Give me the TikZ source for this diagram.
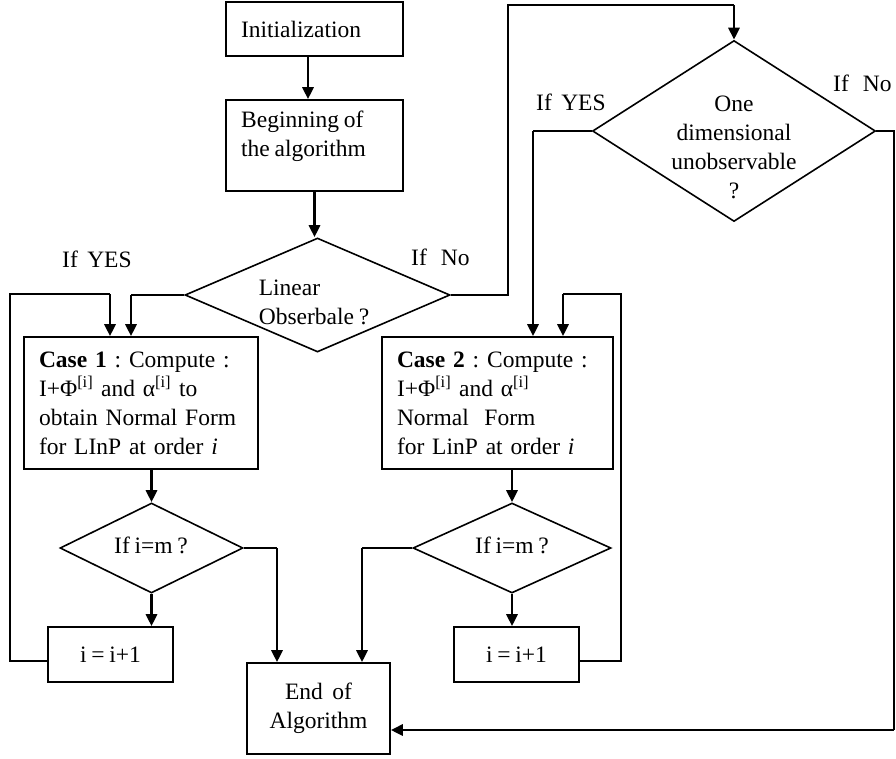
\documentclass[tikz,border=0pt]{standalone}
\usepackage{fontspec}
\setmainfont{Liberation Serif}[WordSpace=0.8]
\usetikzlibrary{arrows.meta,shapes.geometric}
\begin{document}
\begin{tikzpicture}[x=1pt,y=-1pt,
 every node/.style={font=\fontsize{23.5}{29}\selectfont\frenchspacing},
 box/.style={draw, line width=1.6pt, rectangle, inner xsep=15pt, inner ysep=0pt, align=left},
 dia/.style={draw, line width=1.6pt, diamond, inner sep=0pt},
 arr/.style={line width=2.8pt, -{Triangle[length=12pt,width=11pt]}},
 ln/.style={line width=1.6pt},
 txt/.style={inner sep=0pt, align=left}]
\useasboundingbox (0,0) rectangle (896,758);
% boxes
\node[box, minimum width=177, minimum height=54, text width=147] (init) at (314.5,29) {Initialization};
\node[box, minimum width=177, minimum height=91] (begin) at (314.5,145.5) {};
\node[txt, anchor=north west] (begintxt) at (241,111) {Beginning of\\the algorithm};
\node[dia, minimum width=265, minimum height=114] (lin) at (317.5,295) {};
\node[txt] (lintxt) at (314,302) {Linear\\Obserbale ?};
\node[box, minimum width=234, minimum height=132, text width=204] (case1) at (141,403) {\textbf{Case 1} : Compute :\\ I+Φ\textsuperscript{[i]} and α\textsuperscript{[i]} to\\ obtain Normal Form\\ for LInP at order \textit{i}};
\node[dia, minimum width=183, minimum height=90] (d1) at (151.5,548) {};
\node[txt] (d1txt) at (151,545) {If i=m ?};
\node[box, minimum width=125, minimum height=55, align=center] (inc1) at (110.5,654.5) {i = i+1};
\node[box, minimum width=143, minimum height=91, align=center] (end) at (318.5,708.5) {End~ of\\Algorithm};
\node[box, minimum width=231, minimum height=132, text width=201] (case2) at (497.5,403) {\textbf{Case 2} : Compute :\\ I+Φ\textsuperscript{[i]} and α\textsuperscript{[i]}\\ Normal~ Form\\ for LinP at order \textit{i}};
\node[dia, minimum width=198, minimum height=90] (d2) at (512,548) {};
\node[txt] (d2txt) at (512,545) {If i=m ?};
\node[box, minimum width=125, minimum height=55, align=center] (inc2) at (516.5,654.5) {i = i+1};
\node[dia, minimum width=283, minimum height=181] (d3) at (734,131) {};
\node[txt, align=center] (d3txt) at (734,147) {One\\dimensional\\unobservable\\?};
% labels
\node[txt, anchor=base west] (yes1) at (62,267) {If~ YES};
\node[txt, anchor=base west] (no1) at (411,265) {If~~ No};
\node[txt, anchor=base west] (yes2) at (536,110) {If~ YES};
\node[txt, anchor=base west] (no2) at (833,91) {If~~ No};
% connectors
\draw[arr] ([xshift=-6.5pt]init.south) -- ([xshift=-6.5pt]begin.north);
\draw[arr] (begin.south) -- (begin.south |- lin.north);
\coordinate (c1a) at (131,295);
\draw[ln] (lin.west) -- (c1a);
\draw[arr] (c1a) -- (c1a |- case1.north);
\coordinate (l1a) at (10,661);
\coordinate (l1b) at (10,294);
\coordinate (l1c) at (110,294);
\draw[ln] (l1a -| inc1.west) -- (l1a) -- (l1b) -- (l1c);
\draw[arr] (l1c) -- (l1c |- case1.north);
\draw[arr] (case1.south -| d1.north) -- (d1.north);
\draw[arr] (d1.south) -- (d1.south |- inc1.north);
\coordinate (r1) at (277,548);
\draw[ln] (d1.east) -- (r1);
\draw[arr] (r1) -- (r1 |- end.north);
\coordinate (r2) at (362,548);
\draw[ln] (d2.west) -- (r2);
\draw[arr] (r2) -- (r2 |- end.north);
\draw[arr] (case2.south -| d2.north) -- (d2.north);
\draw[arr] (d2.south) -- (d2.south |- inc2.north);
\coordinate (l2a) at (621,661);
\coordinate (l2b) at (621,294);
\coordinate (l2c) at (563,294);
\draw[ln] (l2a -| inc2.east) -- (l2a) -- (l2b) -- (l2c);
\draw[arr] (l2c) -- (l2c |- case2.north);
\coordinate (y3) at (533,131);
\draw[ln] (d3.west) -- (y3);
\draw[arr] (y3) -- (y3 |- case2.north);
\coordinate (n1a) at (508,295);
\coordinate (n1b) at (508,5);
\coordinate (n1c) at (734,5);
\draw[ln] (lin.east) -- (n1a) -- (n1b) -- (n1c);
\draw[arr] (n1c) -- (d3.north);
\coordinate (n2a) at (894,131);
\coordinate (n2b) at (894,730);
\draw[ln] (d3.east) -- (n2a) -- (n2b);
\draw[arr] (n2b) -- (n2b -| end.east);
\end{tikzpicture}
\end{document}
